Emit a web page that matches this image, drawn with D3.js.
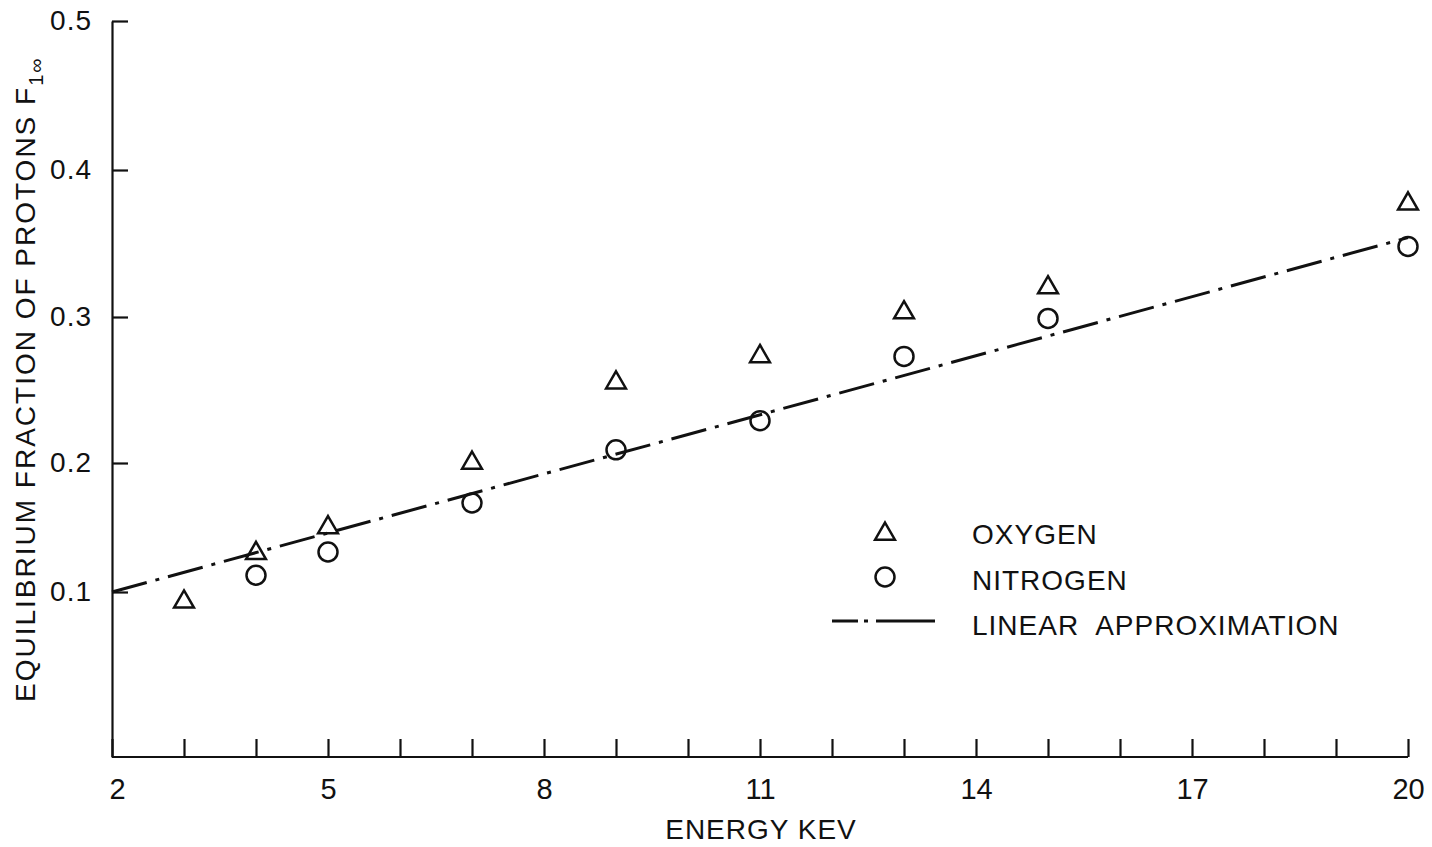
<!DOCTYPE html>
<html>
<head>
<meta charset="utf-8">
<script src="https://cdn.jsdelivr.net/npm/d3@7"></script>
<style>
  body { margin: 0; background: #fff; }
  svg text { font-family: "Liberation Sans", Arial, sans-serif; fill: #111; }
  .axis path, .axis line { stroke: #111; stroke-width: 2.2; }
</style>
</head>
<body>
<div id="chart"></div>
<script>
var width = 1432;
var height = 847;

// values
var oxyEnergy = [3, 4, 5, 7, 9, 11, 13, 15, 20];
var oxygen = [0.094, 0.130, 0.150, 0.200, 0.255, 0.273, 0.303, 0.320, 0.377];
var nitEnergy = [4, 5, 7, 9, 11, 13, 15, 20];
var nitrogen = [0.113, 0.131, 0.169, 0.209, 0.229, 0.273, 0.299, 0.348];
var linEnergy = [2, 20];
var linValue = [0.100, 0.354];
var yTicks = [0.1, 0.2, 0.3, 0.4, 0.5];
var xTicks = d3.range(2, 21);
var xLabels = [2, 5, 8, 11, 14, 17, 20];

var svg = d3.select("#chart")
            .append("svg")
            .attr("width", width)
            .attr("height", height);

var xScale = d3.scaleLinear()
               .domain([2, 20])
               .range([112, 1408]);
// the hand drawn y axis is not evenly spaced, so follow its tick marks
var yScale = d3.scaleLinear()
               .domain([0, 0.1, 0.2, 0.3, 0.4, 0.5])
               .range([757, 592, 463, 317, 170, 21]);

var xAxis = d3.axisBottom(xScale)
              .tickValues(xTicks)
              .tickSizeInner(-18)
              .tickSizeOuter(0)
              .tickPadding(21)
              .tickFormat(function(d){ return xLabels.indexOf(d) >= 0 ? d : ""; });
var yAxis = d3.axisLeft(yScale)
              .tickValues(yTicks)
              .tickSizeInner(-16)
              .tickSizeOuter(0)
              .tickPadding(20)
              .tickFormat(d3.format(".1f"));

var gx = svg.append("g")
   .attr("class", "axis")
   .attr("transform", "translate(0," + yScale(0) + ")")
   .call(xAxis);
gx.selectAll("text").style("font-size", "29px").attr("fill", "#111");
gx.select(".domain").attr("d", "M" + xScale(2) + ",0H" + xScale(20));
gx.selectAll(".tick").filter(function(d){ return d === 2; }).select("text").attr("x", 5);

var gy = svg.append("g")
   .attr("class", "axis")
   .attr("transform", "translate(" + xScale(2) + ",0)")
   .call(yAxis);
gy.selectAll("text").style("font-size", "28px").style("letter-spacing", "1px").attr("fill", "#111");

// linear approximation
var line = d3.line()
             .x(function(d){ return xScale(d[0]); })
             .y(function(d){ return yScale(d[1]); });
svg.append("path")
   .datum(d3.zip(linEnergy, linValue))
   .attr("d", line)
   .attr("fill", "none")
   .attr("stroke", "#111")
   .attr("stroke-width", 3)
   .attr("stroke-dasharray", "36 9 4 9");

var tri = d3.symbol().type(d3.symbolTriangle).size(170);

svg.selectAll(".oxy")
   .data(d3.zip(oxyEnergy, oxygen))
   .enter().append("path")
   .attr("class", "oxy")
   .attr("d", tri)
   .attr("transform", function(d){ return "translate(" + xScale(d[0]) + "," + yScale(d[1]) + ")"; })
   .attr("fill", "none")
   .attr("stroke", "#111")
   .attr("stroke-width", 2.5);

svg.selectAll(".nit")
   .data(d3.zip(nitEnergy, nitrogen))
   .enter().append("circle")
   .attr("class", "nit")
   .attr("cx", function(d){ return xScale(d[0]); })
   .attr("cy", function(d){ return yScale(d[1]); })
   .attr("r", 9.5)
   .attr("fill", "none")
   .attr("stroke", "#111")
   .attr("stroke-width", 2.5);

// legend
var legend = svg.append("g").attr("transform", "translate(885,0)");
legend.append("path")
      .attr("d", tri)
      .attr("transform", "translate(0,534)")
      .attr("fill", "none").attr("stroke", "#111").attr("stroke-width", 2.5);
legend.append("circle")
      .attr("cx", 0).attr("cy", 577).attr("r", 9.5)
      .attr("fill", "none").attr("stroke", "#111").attr("stroke-width", 2.5);
legend.append("line")
      .attr("x1", -53).attr("x2", 50).attr("y1", 621).attr("y2", 621)
      .attr("stroke", "#111").attr("stroke-width", 3)
      .attr("stroke-dasharray", "26 6 4 8 60");
var legendNames = ["OXYGEN", "NITROGEN", "LINEAR  APPROXIMATION"];
legend.selectAll(".lt")
      .data(legendNames)
      .enter().append("text")
      .attr("x", 87)
      .attr("y", function(d, i){ return 544 + i * 45.5; })
      .style("font-size", "28px")
      .style("letter-spacing", "1px")
      .style("white-space", "pre")
      .text(function(d){ return d; });

// axis titles
svg.append("text")
   .attr("x", 761)
   .attr("y", 839)
   .attr("text-anchor", "middle")
   .style("font-size", "28px")
   .style("letter-spacing", "1px")
   .text("ENERGY KEV");

var yt = svg.append("text")
   .attr("transform", "translate(35,702) rotate(-90)")
   .style("font-size", "28px")
   .style("letter-spacing", "2px");
yt.append("tspan").text("EQUILIBRIUM FRACTION OF PROTONS F");
yt.append("tspan").attr("dy", 8).style("font-size", "20px").text("1∞");
</script>
</body>
</html>
